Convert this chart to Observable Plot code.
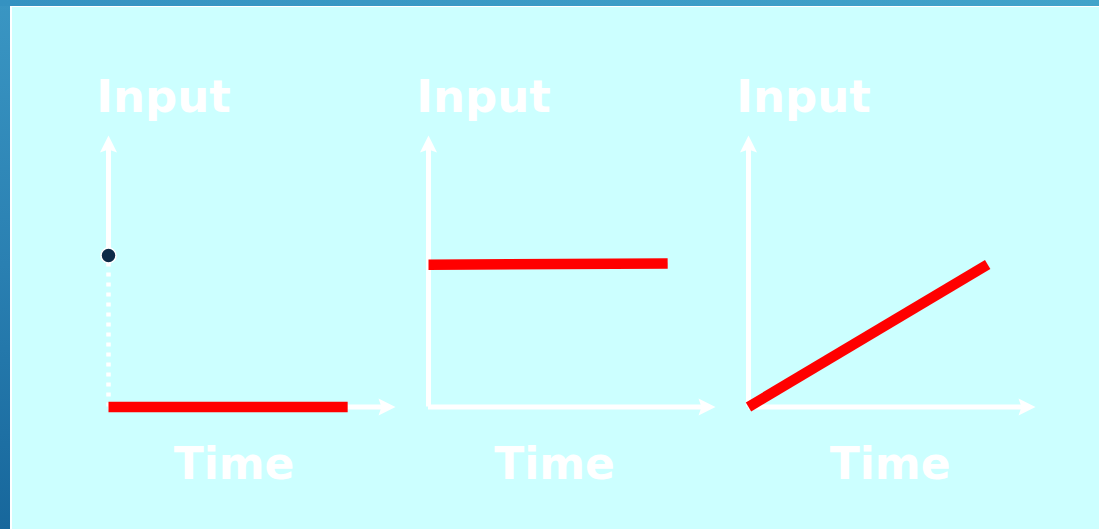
<!DOCTYPE html>
<html>
<head>
<meta charset="utf-8">
<script src="https://cdn.jsdelivr.net/npm/d3@7"></script>
<script src="https://cdn.jsdelivr.net/npm/@observablehq/plot@0.6"></script>
<style>
  html, body { margin: 0; padding: 0; background: #ccffff; }
  #frame { position: relative; width: 1099px; height: 529px; overflow: hidden;
           background: linear-gradient(180deg, #3a96c3 0%, #2a80b2 50%, #17679c 100%); }
  #topband { position: absolute; left: 0; top: 0; width: 1099px; height: 6px;
             background: linear-gradient(90deg, #3592c1, #41a3ca); }
  #inner { position: absolute; left: 10px; top: 6px; right: 0; bottom: 0;
           background: #ccffff; border-left: 2px solid #ffffff; border-top: 1px solid #ffffff; }
  #chart { position: absolute; left: 0; top: 0; }
  #chart svg { display: block; }
</style>
</head>
<body>
<div id="frame">
  <div id="topband"></div>
  <div id="inner"></div>
  <div id="chart"></div>
</div>
<script>
// ---- data ----
const panels = ["Impulse", "Step", "Ramp"];
const xTitle = "Time";
const yTitle = "Input";
const timeMax = 12;
const inputMax = 10;

// red input signals (two points per panel)
const linePanel = ["Impulse", "Impulse", "Step", "Step", "Ramp", "Ramp"];
const lineTime  = [0, 10, 0, 10, 0, 10];
const lineInput = [0, 0, 5.24, 5.29, 0, 5.25];

// impulse marker
const impulsePanel = ["Impulse"];
const impulseTime  = [0];
const impulseInput = [5.58];

// axis-title anchors (data units)
const timeTitleAt  = [5.25, 5.27, 5.92];
const inputTitleAt = [2.3, 2.3, 2.3];

// ---- tables for the library ----
const lines = lineTime.map((t, i) => ({panel: linePanel[i], t, input: lineInput[i]}));
const impulses = impulseTime.map((t, i) => ({panel: impulsePanel[i], t, input: impulseInput[i]}));
const axes = panels.map((p, i) => ({
  panel: p,
  from: impulsePanel.includes(p) ? impulseInput[impulsePanel.indexOf(p)] : 0,
  timeAt: timeTitleAt[i],
  inputAt: inputTitleAt[i]
}));

// filled, slightly notched arrowhead pointing up, tip at the anchor
const arrowHead = {
  draw(ctx) {
    ctx.moveTo(0, 0);
    ctx.lineTo(-8.5, 17);
    ctx.lineTo(0, 14);
    ctx.lineTo(8.5, 17);
    ctx.closePath();
  }
};

const font = {fontFamily: "DejaVu Sans, Verdana, sans-serif", fontWeight: "bold", fill: "white"};

const chart = Plot.plot({
  width: 1099,
  height: 529,
  marginLeft: 108,
  marginRight: 64,
  marginTop: 135,
  marginBottom: 122.5,
  style: {background: "transparent", overflow: "visible"},
  fx: {domain: panels, axis: null, paddingInner: 0.103125, paddingOuter: 0},
  x: {domain: [0, timeMax], axis: null},
  y: {domain: [0, inputMax], axis: null},
  marks: [
    // x axis
    Plot.ruleY(axes, {fx: "panel", y: 0, x1: 0, x2: timeMax, insetRight: 10, stroke: "white", strokeWidth: 5}),
    Plot.dot(axes, {fx: "panel", x: () => timeMax, y: 0, symbol: arrowHead, rotate: 90, fill: "white", stroke: "none"}),
    // y axis (solid part)
    Plot.ruleX(axes, {fx: "panel", x: 0, y1: () => inputMax, y2: "from", insetTop: 10, stroke: "white", strokeWidth: 5}),
    Plot.dot(axes, {fx: "panel", x: 0, y: () => inputMax, symbol: arrowHead, fill: "white", stroke: "none"}),
    // impulse dotted stem
    Plot.ruleX(impulses, {fx: "panel", x: "t", y1: 0, y2: "input", stroke: "white", strokeWidth: 4.5, strokeDasharray: "4,6"}),
    // red input signals
    Plot.line(lines, {fx: "panel", x: "t", y: "input", z: "panel", stroke: "#ff0000", strokeWidth: 10.5, strokeLinecap: "butt"}),
    // impulse dot
    Plot.dot(impulses, {fx: "panel", x: "t", y: "input", r: 7.5, fill: "#0d2b48", stroke: "white", strokeWidth: 1.5}),
    // titles
    Plot.text(axes, {fx: "panel", x: "inputAt", y: () => inputMax, text: () => yTitle, lineAnchor: "bottom", dy: -23.5, fontSize: 45, ...font}),
    Plot.text(axes, {fx: "panel", x: "timeAt", y: () => 0, text: () => xTitle, lineAnchor: "bottom", dy: 72, fontSize: 44, ...font})
  ]
});
document.getElementById("chart").appendChild(chart);
</script>
</body>
</html>
